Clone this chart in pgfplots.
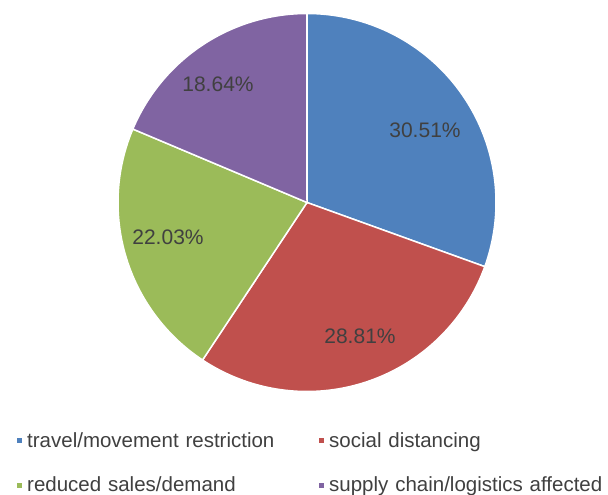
\documentclass[border=0pt]{standalone}
\usepackage{pgfplots}
\pgfplotsset{compat=1.18}
\usepackage{fontspec}
\setmainfont{Liberation Sans}
\definecolor{cblue}{HTML}{4F81BD}
\definecolor{cred}{HTML}{C0504D}
\definecolor{cgreen}{HTML}{9BBB59}
\definecolor{cpurple}{HTML}{8064A2}
\definecolor{lblgray}{HTML}{404040}
% shares (percent)
\def\vA{30.51}\def\vB{28.81}\def\vC{22.03}\def\vD{18.64}
\pgfmathsetmacro{\aA}{90}
\pgfmathsetmacro{\aB}{\aA-3.6*\vA}
\pgfmathsetmacro{\aC}{\aB-3.6*\vB}
\pgfmathsetmacro{\aD}{\aC-3.6*\vC}
\pgfmathsetmacro{\aE}{\aD-3.6*\vD}
\begin{document}
\begin{tikzpicture}
\useasboundingbox (0,0) rectangle (608pt,495pt);
\begin{axis}[
  at={(307pt,292.5pt)}, anchor=origin,
  x=1pt, y=1pt, xmin=-189, xmax=189, ymin=-189, ymax=189,
  hide axis, clip=false,
  data cs=polar, samples=120,
  legend columns=2,
  legend image code/.code={\fill[#1,draw=none] (0pt,-2.5pt) rectangle (5pt,2.5pt);},
  legend style={at={(axis cs:-290,-230)}, anchor=north west, draw=none, fill=none,
    inner sep=0pt, row sep=28pt,
    nodes={inner sep=0pt, text width=280pt, anchor=west, align=left,
      font=\fontsize{20.5}{24}\selectfont, text=lblgray},
    /tikz/every odd column/.style={column sep=5pt},
    /tikz/every even column/.style={column sep=12pt}},
]
\addplot[fill=cblue, draw=white, line width=1.5pt, domain=\aB:\aA] (x,189) -- (0,0) -- cycle;
\addlegendentry{travel/movement restriction}
\addplot[fill=cred, draw=white, line width=1.5pt, domain=\aC:\aB] (x,189) -- (0,0) -- cycle;
\addlegendentry{social distancing}
\addplot[fill=cgreen, draw=white, line width=1.5pt, domain=\aD:\aC] (x,189) -- (0,0) -- cycle;
\addlegendentry{reduced sales/demand}
\addplot[fill=cpurple, draw=white, line width=1.5pt, domain=\aE:\aD] (x,189) -- (0,0) -- cycle;
\addlegendentry{supply chain/logistics affected}
\begin{scope}[every node/.style={font=\fontsize{21}{25}\selectfont, text=lblgray}]
\node at (axis cs:118,72) {30.51\%};
\node at (axis cs:53,-134) {28.81\%};
\node at (axis cs:-139,-35) {22.03\%};
\node at (axis cs:-89,118) {18.64\%};
\end{scope}
\end{axis}
\end{tikzpicture}
\end{document}
